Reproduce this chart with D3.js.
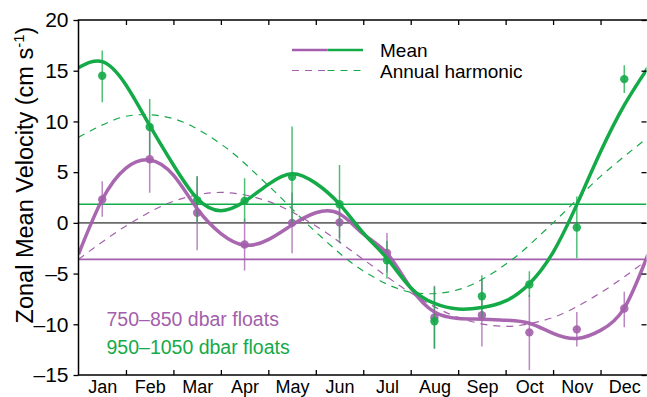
<!DOCTYPE html>
<html>
<head>
<meta charset="utf-8">
<script src="https://cdn.jsdelivr.net/npm/d3@7/dist/d3.min.js"></script>
<style>
  html, body { margin: 0; padding: 0; background: #fff; }
  svg { display: block; font-family: "Liberation Sans", Arial, Helvetica, sans-serif; }
</style>
</head>
<body>
<svg id="chart" width="647" height="397"></svg>
<script>
// ---------- DATA ----------
const months = ["Jan","Feb","Mar","Apr","May","Jun","Jul","Aug","Sep","Oct","Nov","Dec"];
const yTicks = [-15,-10,-5,0,5,10,15,20];

// monthly means with error bars (cm/s)
const deepVals  = [14.5, 9.45, 2.24, 2.17, 4.54, 1.84, -3.68, -9.7, -7.23, -6.08, -0.46, 14.17];
const deepLo    = [11.9, 6.7, 0.0, 0.1, -0.4, -2.0, -5.5, -12.4, -9.3, -7.3, -3.5, 12.8];
const deepHi    = [17.0, 12.2, 4.6, 4.4, 9.5, 5.7, -1.8, -6.3, -5.16, -4.76, 2.6, 15.55];

const shallowVals = [2.3, 6.27, 0.99, -2.13, 0.0, 0.05, -2.96, -9.33, -9.1, -10.8, -10.5, -8.45];
const shallowLo   = [0.6, 2.96, -2.7, -4.7, -3.0, -1.5, -4.9, -12.4, -12.2, -14.5, -12.2, -10.3];
const shallowHi   = [4.1, 9.5, 4.6, 0.4, 3.0, 1.5, -1.0, -6.2, -5.5, -7.1, -8.8, -6.8];

// overall means
const deepMean = 1.84;
const shallowMean = -3.6;

// smooth mean curves sampled every half month (t = 0 .. 12)
const curveT = [0,0.5,1,1.5,2,2.5,3,3.5,4,4.5,5,5.5,6,6.5,7,7.5,8,8.5,9,9.5,10,10.5,11,11.5,12];
const deepCurve    = [15.3,15.9,13.6,9.6,5.7,2.4,1.2,2.1,3.8,4.85,3.9,1.84,-1.0,-3.5,-6.4,-7.95,-8.5,-8.35,-7.7,-6.0,-2.9,1.8,7.0,11.6,15.3];
const shallowCurve = [-3.1,2.3,5.4,6.2,4.7,1.4,-1.05,-2.2,-1.65,-0.2,1.0,0.9,-1.1,-3.0,-6.4,-8.8,-9.43,-9.5,-9.6,-9.9,-10.9,-11.4,-10.6,-8.4,-3.1];

// annual harmonic sampled at month boundaries (t = 0 .. 12)
const harmT = [0,1,2,3,4,5,6,7,8,9,10,11,12];
const deepHarm    = [8.42,10.51,10.27,7.77,3.68,-0.90,-4.74,-6.83,-6.59,-4.09,0.0,4.58,8.42];
const shallowHarm = [-3.6,-0.3,2.12,3.0,2.12,-0.3,-3.6,-6.9,-9.32,-10.2,-9.32,-6.9,-3.6];

const legendLabels = ["Mean", "Annual harmonic"];
const seriesLabels = ["750\u2013850 dbar floats", "950\u20131050 dbar floats"];

// ---------- STYLE ----------
const PURPLE = "#a35fab";
const GREEN  = "#14aa48";

const svg = d3.select("#chart");
const x = d3.scaleLinear().domain([0, 12]).range([78.5, 648]);
const y = d3.scaleLinear().domain([-15, 20]).range([375, 20]);
const X0 = 78.5, X1 = 646.5, Y0 = 20, Y1 = 375;

svg.append("defs").append("clipPath").attr("id","plotclip")
  .append("rect").attr("x", X0).attr("y", Y0).attr("width", X1 - X0).attr("height", Y1 - Y0);

const plot = svg.append("g").attr("clip-path","url(#plotclip)");

// horizontal reference lines
plot.append("line").attr("x1", X0).attr("x2", X1).attr("y1", y(0)).attr("y2", y(0))
  .attr("stroke", "#6a6a6a").attr("stroke-width", 1.8);
plot.append("line").attr("x1", X0).attr("x2", X1).attr("y1", y(shallowMean)).attr("y2", y(shallowMean))
  .attr("stroke", PURPLE).attr("stroke-width", 1.6);
plot.append("line").attr("x1", X0).attr("x2", X1).attr("y1", y(deepMean)).attr("y2", y(deepMean))
  .attr("stroke", GREEN).attr("stroke-width", 1.6);

const harmLine = d3.line().x(d => x(d[0])).y(d => y(d[1])).curve(d3.curveCatmullRom.alpha(0.5));
const meanLine = d3.line().x(d => x(d[0])).y(d => y(d[1])).curve(d3.curveNatural);

// annual harmonic (dashed)
plot.append("path").datum(harmT.map((t,i) => [t, shallowHarm[i]]))
  .attr("d", harmLine).attr("fill","none").attr("stroke", PURPLE).attr("stroke-width", 1.2)
  .attr("stroke-dasharray", "7,6");
plot.append("path").datum(harmT.map((t,i) => [t, deepHarm[i]]))
  .attr("d", harmLine).attr("fill","none").attr("stroke", GREEN).attr("stroke-width", 1.2)
  .attr("stroke-dasharray", "7,6");

// error bars + dots
function drawPoints(vals, lo, hi, color) {
  const g = plot.append("g");
  g.selectAll("line.err").data(vals).enter().append("line")
    .attr("x1", (d,i) => x(i + 0.5)).attr("x2", (d,i) => x(i + 0.5))
    .attr("y1", (d,i) => y(lo[i])).attr("y2", (d,i) => y(hi[i]))
    .attr("stroke", color).attr("stroke-width", 1.5).attr("stroke-opacity", 0.75);
  g.selectAll("circle").data(vals).enter().append("circle")
    .attr("cx", (d,i) => x(i + 0.5)).attr("cy", d => y(d)).attr("r", 4.2)
    .attr("fill", color).attr("fill-opacity", 0.9);
}
drawPoints(shallowVals, shallowLo, shallowHi, PURPLE);
drawPoints(deepVals, deepLo, deepHi, GREEN);

// mean curves (thick)
plot.append("path").datum(curveT.map((t,i) => [t, shallowCurve[i]]))
  .attr("d", meanLine).attr("fill","none").attr("stroke", PURPLE).attr("stroke-width", 3.5)
  .attr("stroke-opacity", 0.95);
plot.append("path").datum(curveT.map((t,i) => [t, deepCurve[i]]))
  .attr("d", meanLine).attr("fill","none").attr("stroke", GREEN).attr("stroke-width", 3.5);

// ---------- AXES ----------
const boundaries = d3.range(1, 12);
const axisStyle = g => { g.selectAll("path.domain").remove(); g.selectAll("line").attr("stroke","#000").attr("stroke-width",1.3); };

svg.append("g").attr("transform", `translate(0,${Y1})`)
  .call(d3.axisBottom(x).tickValues(boundaries).tickSize(-5).tickFormat(""))
  .call(axisStyle);
svg.append("g").attr("transform", `translate(0,${Y0})`)
  .call(d3.axisTop(x).tickValues(boundaries).tickSize(-5).tickFormat(""))
  .call(axisStyle);
svg.append("g").attr("transform", `translate(${X1},0)`)
  .call(d3.axisRight(y).tickValues(yTicks).tickSize(-5).tickFormat(""))
  .call(axisStyle);
const yAx = svg.append("g").attr("transform", `translate(${X0},0)`)
  .call(d3.axisLeft(y).tickValues(yTicks).tickSize(5).tickPadding(5).tickFormat(d => d < 0 ? "\u2013" + Math.abs(d) : d))
  .call(axisStyle);
yAx.selectAll("text").attr("font-size", 21).attr("fill","#000").attr("font-family", "Liberation Sans, Arial, sans-serif");

const xLab = svg.append("g").attr("transform", `translate(0,${Y1})`)
  .call(d3.axisBottom(x).tickValues(d3.range(12).map(i => i + 0.5)).tickSize(0).tickPadding(5)
    .tickFormat((d,i) => months[i]));
xLab.select("path.domain").remove();
xLab.selectAll("text").attr("font-size", 18).attr("fill","#000").attr("font-family", "Liberation Sans, Arial, sans-serif");

// frame
svg.append("rect").attr("x", X0).attr("y", Y0).attr("width", X1 - X0 + 2).attr("height", Y1 - Y0)
  .attr("fill","none").attr("stroke","#000").attr("stroke-width",1.5);

// y label
const yl = svg.append("text").attr("transform", `translate(33,175) rotate(-90)`)
  .attr("text-anchor","middle").attr("font-size", 23.5).attr("fill","#000");
yl.append("tspan").text("Zonal Mean Velocity (cm s");
yl.append("tspan").attr("font-size", 15).attr("dy", -9).text("-1");
yl.append("tspan").attr("dy", 9).text(")");

// legend
const lg = svg.append("g");
lg.append("line").attr("x1", 292).attr("x2", 327.5).attr("y1", 50).attr("y2", 50).attr("stroke", PURPLE).attr("stroke-width", 2.5);
lg.append("line").attr("x1", 327.5).attr("x2", 363).attr("y1", 50).attr("y2", 50).attr("stroke", GREEN).attr("stroke-width", 2.5);
lg.append("line").attr("x1", 292).attr("x2", 327.5).attr("y1", 70.5).attr("y2", 70.5).attr("stroke", PURPLE).attr("stroke-width", 1.2).attr("stroke-dasharray","7,6");
lg.append("line").attr("x1", 327.5).attr("x2", 363).attr("y1", 70.5).attr("y2", 70.5).attr("stroke", GREEN).attr("stroke-width", 1.2).attr("stroke-dasharray","7,6");
lg.selectAll("text").data(legendLabels).enter().append("text")
  .attr("x", 380).attr("y", (d,i) => 57 + i * 20.5).attr("font-size", 19).attr("fill","#000").text(d => d);

// series labels
svg.selectAll("text.series").data(seriesLabels).enter().append("text").attr("class","series")
  .attr("x", 106.5).attr("y", (d,i) => 326 + i * 28).attr("font-size", 19.5)
  .attr("fill", (d,i) => i === 0 ? PURPLE : GREEN).text(d => d);
</script>
</body>
</html>
